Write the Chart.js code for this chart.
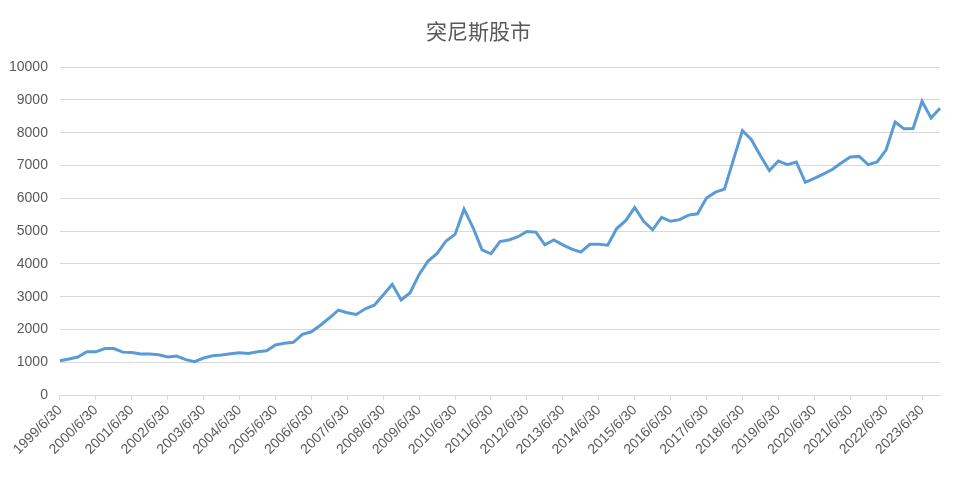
<!DOCTYPE html>
<html>
<head>
<meta charset="utf-8">
<title>突尼斯股市</title>
<script src="https://cdn.jsdelivr.net/npm/chart.js@4.4.1/dist/chart.umd.min.js"></script>
<style>
  html, body { margin: 0; padding: 0; background: #ffffff; }
  #wrap { width: 960px; height: 480px; position: relative; }
</style>
</head>
<body>
<div id="wrap"><canvas id="tunisia-chart"></canvas></div>
<script>
// quarterly closes, 1999/6/30 .. 2023/12/31
const indexValues = [
  1050, 1100, 1160, 1320, 1320, 1420, 1420, 1310, 1300, 1250,
  1250, 1230, 1160, 1190, 1080, 1020, 1130, 1200, 1220, 1260,
  1290, 1270, 1320, 1350, 1530, 1580, 1610, 1850, 1930, 2130,
  2350, 2590, 2510, 2460, 2630, 2740, 3050, 3380, 2900, 3120,
  3680, 4090, 4320, 4700, 4900, 5670, 5110, 4430, 4310, 4680,
  4730, 4830, 4990, 4970, 4580, 4730, 4580, 4450, 4360, 4600,
  4600, 4570, 5080, 5320, 5720, 5300, 5040, 5420, 5300, 5350,
  5490, 5530, 6010, 6190, 6280, 7180, 8070, 7790, 7300, 6850,
  7140, 7030, 7110, 6490, 6610, 6740, 6880, 7080, 7260, 7280,
  7030, 7110, 7480, 8330, 8120, 8130, 8960, 8450, 8750
];
const quarterEnds = ['3/31', '6/30', '9/30', '12/31'];
const firstYear = 1999;
const firstQuarter = 1; // Q2
const yTicks = [0, 1000, 2000, 3000, 4000, 5000, 6000, 7000, 8000, 9000, 10000];

const quarterLabels = indexValues.map((_, i) => {
  const n = firstQuarter + i;
  return (firstYear + Math.floor(n / 4)) + '/' + quarterEnds[n % 4];
});

function initTunisiaChart() {
  'use strict';
  if (typeof Chart === 'undefined') {
    console.warn('Chart.js not loaded');
    return;
  }

  Chart.defaults.color = '#595959';
  Chart.defaults.font.family = "'Liberation Sans', 'Noto Sans CJK SC', sans-serif";

  const ctx = document.getElementById('tunisia-chart');
  new Chart(ctx, {
    type: 'line',
    data: {
      labels: quarterLabels,
      datasets: [{
        label: '突尼斯股市',
        data: indexValues,
        borderColor: '#5b9bd5',
        borderWidth: 3,
        pointRadius: 0,
        tension: 0,
        fill: false,
      }],
    },
    options: {
      responsive: true,
      maintainAspectRatio: false,
      animation: false,
      layout: { padding: { left: -3, right: 0, top: 0, bottom: 20 } },
      plugins: {
        legend: { display: false },
        tooltip: { enabled: false },
        title: {
          display: true,
          text: '突尼斯股市',
          color: '#595959',
          font: { size: 21, weight: 'normal', family: "'Noto Sans CJK SC', sans-serif" },
          padding: { top: 18, bottom: 24 },
        },
      },
      scales: {
        x: {
          offset: false,
          grid: {
            display: true,
            drawOnChartArea: false,
            drawTicks: true,
            tickLength: 5,
            color: '#d9d9d9',
          },
          border: { display: true, color: '#d9d9d9' },
          ticks: {
            autoSkip: false,
            maxRotation: 45,
            minRotation: 45,
            padding: 2,
            color: '#595959',
            font: { size: 14 },
            callback: function (v, i) {
              return i % 4 === 0 ? quarterLabels[i] : null;
            },
          },
        },
        y: {
          min: 0,
          max: 10000,
          afterBuildTicks: (axis) => {
            axis.ticks = yTicks.map((v) => ({ value: v }));
          },
          grid: { color: '#d9d9d9', drawTicks: false },
          border: { display: false },
          ticks: {
            padding: 12,
            color: '#595959',
            font: { size: 14 },
            callback: (v) => String(v),
          },
        },
        // empty right gutter so the title stays centred on the canvas
        yGutter: {
          position: 'right',
          display: true,
          grid: { display: false },
          border: { display: false },
          ticks: { display: false },
          afterFit: (s) => { s.width = 20; },
        },
      },
    },
  });
}

window.addEventListener('load', initTunisiaChart);
</script>
</body>
</html>
